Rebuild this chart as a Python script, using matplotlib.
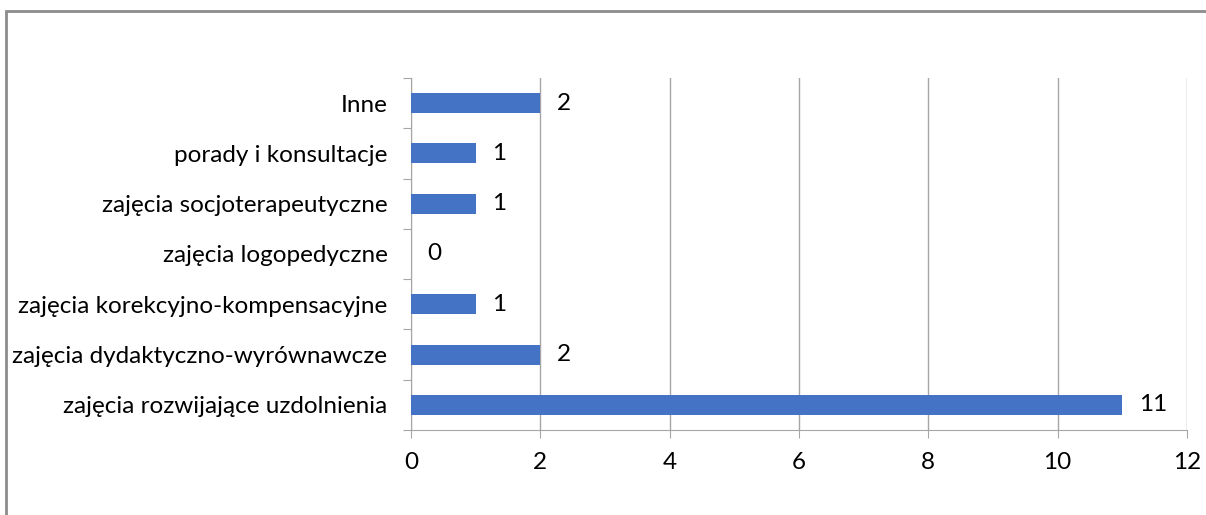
import matplotlib.pyplot as plt
from matplotlib.patches import Rectangle

plt.rcParams['font.family'] = ['Lato', 'DejaVu Sans']

categories = ["zajęcia rozwijające uzdolnienia",
              "zajęcia dydaktyczno-wyrównawcze",
              "zajęcia korekcyjno-kompensacyjne",
              "zajęcia logopedyczne",
              "zajęcia socjoterapeutyczne",
              "porady i konsultacje",
              "Inne"]
values = [11, 2, 1, 0, 1, 1, 2]
x_ticks = [0, 2, 4, 6, 8, 10, 12]

grey = "#A6A6A6"
fs = 17.5
fig = plt.figure(figsize=(12.06, 5.15), dpi=100)
fig.patches.append(Rectangle((6 / 1206, -0.1), 1.2, 1 - 11 / 515 + 0.1,
                             transform=fig.transFigure, fill=False,
                             edgecolor="#8C8C8C", linewidth=2))
ax = fig.add_axes([411 / 1206, 1 - 430 / 515, 776 / 1206, 352 / 515])

pos = list(range(len(categories)))
ax.barh(pos, values, height=0.4, color="#4472C4", zorder=3)
for p, v in zip(pos, values):
    ax.annotate(str(v), (v, p), xytext=(12, 0), textcoords="offset points",
                va="center", ha="left", fontsize=fs)

ax.set_xlim(0, 12)
ax.set_ylim(-0.5, len(categories) - 0.5)
ax.set_xticks(x_ticks)
ax.set_xticklabels([str(t) for t in x_ticks], fontsize=fs)
ax.tick_params(axis="x", length=6, color=grey, pad=10)
ax.set_yticks([i - 0.5 for i in range(len(categories) + 1)])
ax.set_yticklabels([])
ax.set_yticks(pos, minor=True)
ax.set_yticklabels(categories, minor=True, fontsize=fs)
ax.tick_params(axis="y", which="major", length=6, color=grey)
ax.tick_params(axis="y", which="minor", length=0, pad=17)
ax.grid(axis="x", color=grey, linewidth=1, zorder=0)
for s in ["top", "right"]:
    ax.spines[s].set_visible(False)
for s in ["left", "bottom"]:
    ax.spines[s].set_color(grey)

fig.savefig("out.png", dpi=100)
